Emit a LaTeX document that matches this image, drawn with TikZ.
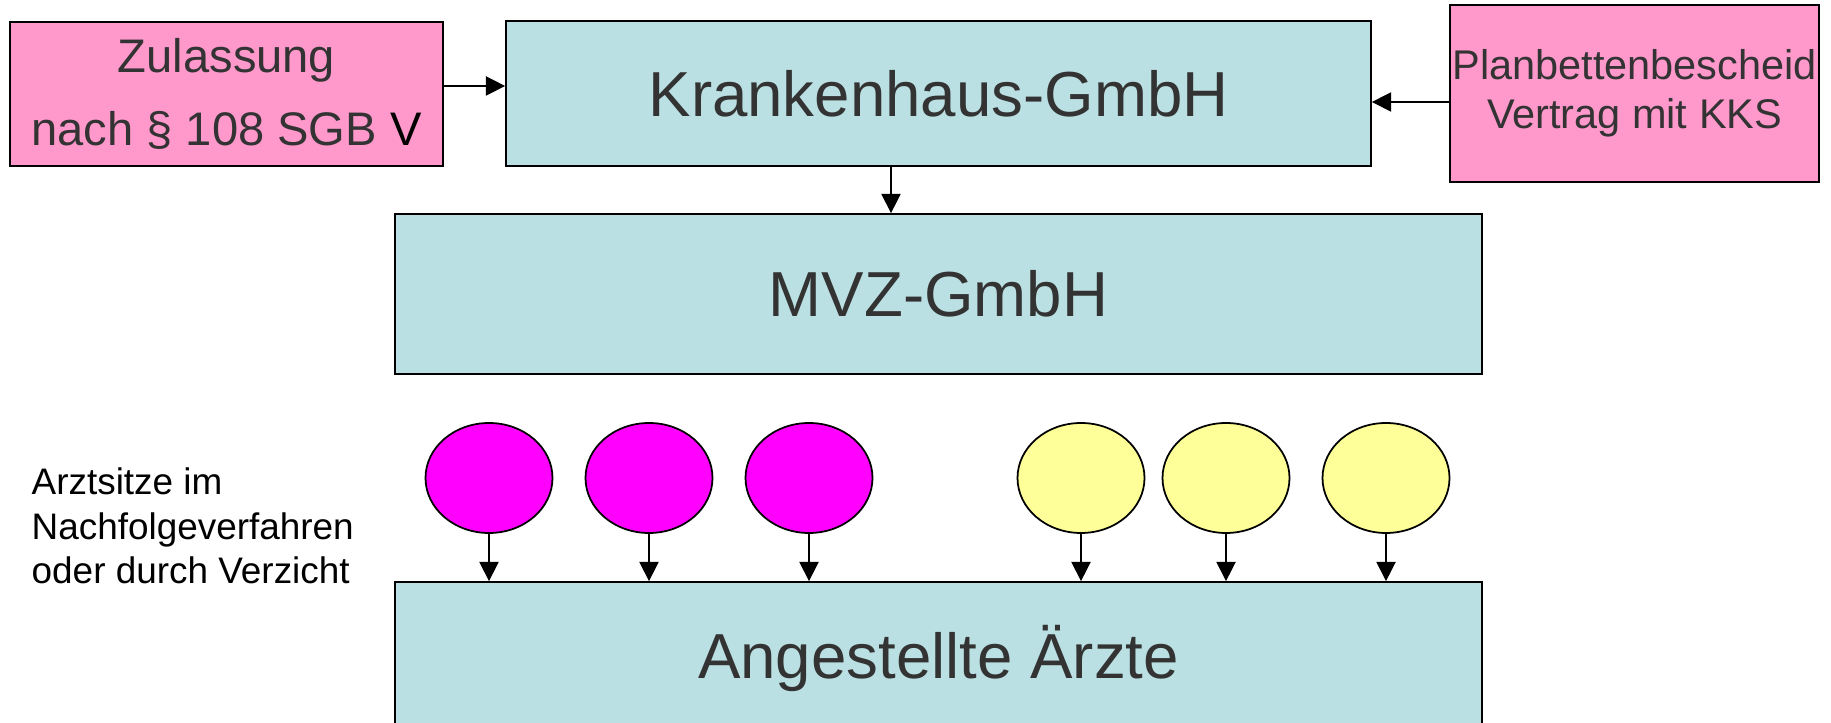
\documentclass[tikz,border=0pt]{standalone}
\usepackage{fontspec}
\setmainfont{Liberation Sans}
\usetikzlibrary{arrows.meta,shapes.geometric}
\definecolor{boxblue}{RGB}{187,224,227}
\definecolor{boxpink}{RGB}{255,153,204}
\definecolor{seatmagenta}{RGB}{255,0,255}
\definecolor{seatyellow}{RGB}{255,255,153}
\definecolor{txtgray}{RGB}{51,51,51}

\begin{document}
\begin{tikzpicture}[>={Triangle[length=5.5pt,width=5.5pt]},
  box/.style={draw,line width=0.5pt,inner sep=0pt,text=txtgray},
  seat/.style={draw,ellipse,line width=0.5pt,inner sep=0pt,minimum width=1.27cm,minimum height=1.10cm},
  big/.style={font=\fontsize{18.1}{21}\selectfont}]
\useasboundingbox (0,0) rectangle (18.31,-7.23);
\node[box,fill=boxpink,minimum width=4.33cm,minimum height=1.44cm,align=center,font=\fontsize{13.4}{21}\selectfont] (zul) at (2.265,-0.94) {Zulassung\\nach § 108 SGB \textcolor{black}{V}};
\node[box,fill=boxblue,minimum width=8.65cm,minimum height=1.45cm,big] (kh) at (9.385,-0.935) {Krankenhaus-GmbH};
\node[box,fill=boxpink,minimum width=3.69cm,minimum height=1.77cm,align=center,font=\fontsize{11.8}{13.9}\selectfont] (plan) at (16.345,-0.935) {Planbettenbescheid\\Vertrag mit KKS};
\node[box,fill=boxblue,minimum width=10.87cm,minimum height=1.60cm,big] (mvz) at (9.385,-2.94) {MVZ-GmbH};
\node[box,fill=boxblue,minimum width=10.87cm,minimum height=1.52cm,big] (aerzte) at (9.385,-6.58) {Angestellte Ärzte};
\node[seat,fill=seatmagenta] (s1) at (4.89,-4.78) {};
\node[seat,fill=seatmagenta] (s2) at (6.49,-4.78) {};
\node[seat,fill=seatmagenta] (s3) at (8.09,-4.78) {};
\node[seat,fill=seatyellow] (s4) at (10.81,-4.78) {};
\node[seat,fill=seatyellow] (s5) at (12.26,-4.78) {};
\node[seat,fill=seatyellow] (s6) at (13.86,-4.78) {};
\node[anchor=north west,inner sep=0pt,align=left,font=\fontsize{10.5}{12.7}\selectfont] (sitze) at (0.31,-4.67) {Arztsitze im\\Nachfolgeverfahren\\oder durch Verzicht};
\draw[->] ([yshift=0.08cm]zul.east) -- ([yshift=0.08cm]zul.east -| kh.west);
\draw[->] ([yshift=-0.085cm]plan.west) -- ([yshift=-0.085cm]plan.west -| kh.east);
\draw[->] ([xshift=-0.475cm]kh.south) -- ([xshift=-0.475cm]kh.south |- mvz.north);
\draw[->] (s1.south) -- (s1.south |- aerzte.north);
\draw[->] (s2.south) -- (s2.south |- aerzte.north);
\draw[->] (s3.south) -- (s3.south |- aerzte.north);
\draw[->] (s4.south) -- (s4.south |- aerzte.north);
\draw[->] (s5.south) -- (s5.south |- aerzte.north);
\draw[->] (s6.south) -- (s6.south |- aerzte.north);
\end{tikzpicture}
\end{document}
